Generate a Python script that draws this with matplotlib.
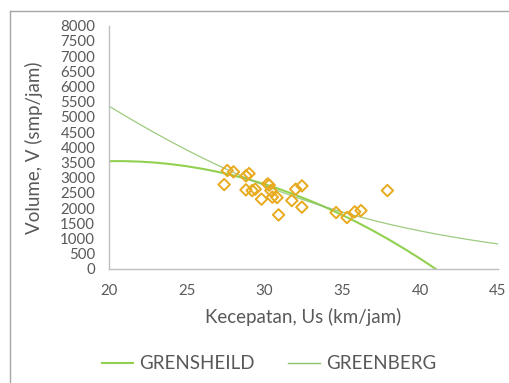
import matplotlib
matplotlib.use("Agg")
import matplotlib.pyplot as plt
from matplotlib.lines import Line2D

plt.rcParams['font.family'] = ['Lato', 'DejaVu Sans']

# data lapangan: kecepatan (km/jam) dan volume (smp/jam)
kecepatan = [27.6, 28.0, 27.4, 28.8, 29.0, 28.8, 29.2, 29.4, 29.8, 30.2,
             30.3, 30.4, 30.5, 30.8, 30.9, 31.75, 32.0, 32.4, 32.4, 34.6,
             35.3, 35.8, 36.2, 37.9]
volume = [3234, 3191, 2773, 3059, 3135, 2599, 2576, 2622, 2293, 2796,
          2753, 2576, 2359, 2345, 1776, 2247, 2622, 2730, 2030, 1852,
          1688, 1875, 1918, 2576]

# model Greenshields
us_gs = list(range(20, 42))
v_gs = [3544, 3544, 3527, 3494, 3443, 3376, 3291, 3190, 3072, 2937, 2785,
        2616, 2430, 2228, 2008, 1772, 1519, 1249, 962, 658, 338, 0]

# model Greenberg
us_gb = list(range(20, 46))
v_gb = [5350, 5044, 4745, 4456, 4177, 3909, 3651, 3405, 3171, 2949, 2740,
        2543, 2358, 2184, 2021, 1869, 1727, 1594, 1470, 1355, 1249, 1149,
        1058, 973, 894, 821]

c_gs = '#92D050'
c_gb = '#8CC26A'
c_pt = '#E8AA1E'
abu = '#595959'

fig = plt.figure(figsize=(5.1, 3.83), dpi=100)
ax = fig.add_axes([0.214, 0.298, 0.762, 0.635])

ax.plot(us_gs, v_gs, color=c_gs, lw=1.5, zorder=2)
ax.plot(us_gb, v_gb, color=c_gb, lw=0.9, alpha=0.85, zorder=2)
ax.scatter(kecepatan, volume, marker='D', s=34, facecolors='none',
           edgecolors=c_pt, linewidths=1.4, zorder=3)

ax.set_xlim(20, 45)
ax.set_ylim(0, 8000)
ax.set_xticks(range(20, 46, 5))
ax.set_yticks(range(0, 8001, 500))
ax.tick_params(length=0, labelsize=10.8, colors=abu)
ax.tick_params(axis='y', pad=10)
ax.tick_params(axis='x', pad=11)
for s in ['top', 'right']:
    ax.spines[s].set_visible(False)
for s in ['left', 'bottom']:
    ax.spines[s].set_color('#BFBFBF')
    ax.spines[s].set_linewidth(1.0)

ax.set_xlabel('Kecepatan, Us (km/jam)', fontsize=13.5, color=abu, labelpad=7)
ax.set_ylabel('Volume, V (smp/jam)', fontsize=13.5, color=abu)
ax.yaxis.set_label_coords(-0.17, 0.5)

handles = [Line2D([], [], color=c_gs, lw=1.5),
           Line2D([], [], color=c_gb, lw=1.0)]
fig.legend(handles, ['GRENSHEILD', 'GREENBERG'], loc='center',
           bbox_to_anchor=(0.527, 0.05), ncol=2, frameon=False,
           fontsize=13.5, labelcolor=abu, handlelength=1.7,
           handletextpad=0.3, columnspacing=1.8)

# bingkai area grafik
fig.add_artist(Line2D([10 / 510, 10 / 510], [0, 1 - 11 / 383],
                      color='#A6A6A6', lw=1.0))
fig.add_artist(Line2D([10 / 510, 1], [1 - 11 / 383, 1 - 11 / 383],
                      color='#A6A6A6', lw=1.0))

fig.savefig('out.png', dpi=100)
